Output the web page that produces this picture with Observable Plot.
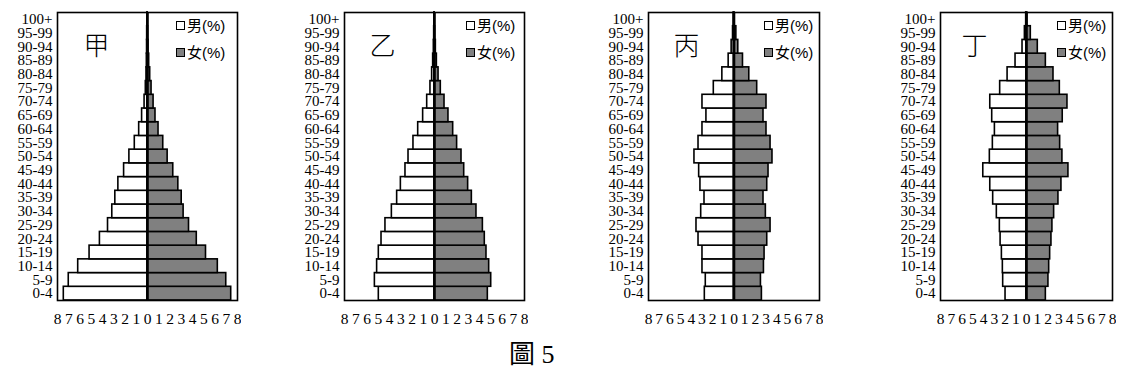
<!DOCTYPE html>
<html>
<head>
<meta charset="utf-8">
<script src="https://cdn.jsdelivr.net/npm/d3@7"></script>
<script src="https://cdn.jsdelivr.net/npm/@observablehq/plot@0.6"></script>
<style>
  html, body { margin: 0; padding: 0; background: #fff; }
  #wrap { position: relative; width: 1126px; height: 377px; overflow: hidden; }
  .panel { position: absolute; top: 0; }
  .legend { position: absolute; font-family: "Liberation Sans", "Noto Sans CJK TC", sans-serif; font-size: 15px; color: #000; line-height: 1; }
  .legend .item { position: absolute; white-space: nowrap; display: flex; align-items: center; }
  .legend .sw { width: 7px; height: 7px; border: 1.5px solid #000; margin-right: 2px; }
  #caption { position: absolute; left: 509px; top: 339px; font-family: "Liberation Serif", "Times New Roman", "Noto Sans CJK TC", serif; font-size: 26px; color: #000; line-height: 1.2; }
</style>
</head>
<body>
<div id="wrap"></div>
<script>
// Age groups (bottom to top)
const ages = ["0-4","5-9","10-14","15-19","20-24","25-29","30-34","35-39","40-44","45-49","50-54","55-59","60-64","65-69","70-74","75-79","80-84","85-89","90-94","95-99","100+"];

// Panel titles
const titles = ["甲", "乙", "丙", "丁"];
const legendLabels = ["男(%)", "女(%)"];
const xTicks = [-8,-7,-6,-5,-4,-3,-2,-1,0,1,2,3,4,5,6,7,8];

// 甲
const jiaMale   = [7.44,7.0,6.16,5.15,4.23,3.51,3.13,2.86,2.59,2.08,1.61,1.13,0.74,0.48,0.26,0.15,0.09,0.06,0.04,0.03,0.01];
const jiaFemale = [7.44,7.0,6.25,5.2,4.38,3.69,3.21,3.04,2.74,2.29,1.79,1.40,0.98,0.71,0.54,0.36,0.24,0.15,0.09,0.05,0.02];
// 乙
const yiMale    = [4.95,5.30,5.10,4.95,4.71,4.36,3.79,3.32,2.99,2.58,2.31,1.87,1.45,1.01,0.65,0.36,0.21,0.12,0.06,0.03,0.01];
const yiFemale  = [4.74,5.04,4.86,4.62,4.47,4.30,3.73,3.32,2.99,2.64,2.40,2.01,1.66,1.24,0.89,0.56,0.36,0.21,0.12,0.05,0.02];
// 丙
const bingMale   = [2.73,2.64,2.95,2.95,3.32,3.51,3.07,2.76,3.14,3.26,3.70,3.32,2.95,2.58,2.95,1.89,1.09,0.50,0.22,0.09,0.03];
const bingFemale = [2.61,2.52,2.80,2.86,3.11,3.42,2.98,2.76,3.11,3.23,3.60,3.42,3.04,2.76,3.04,2.17,1.43,0.84,0.40,0.22,0.06];
// 丁
const dingMale   = [1.95,2.17,2.20,2.29,2.41,2.48,2.76,3.10,3.37,4.02,3.41,3.13,2.94,3.19,3.37,2.45,1.76,1.02,0.37,0.15,0.03];
const dingFemale = [1.80,2.04,2.11,2.20,2.32,2.41,2.57,2.97,3.25,3.90,3.34,3.13,2.94,3.37,3.81,3.10,2.51,1.80,1.05,0.40,0.08];

const series = [
  [jiaMale, jiaFemale],
  [yiMale, yiFemale],
  [bingMale, bingFemale],
  [dingMale, dingFemale]
];

// Layout (pixels)
const layout = [
  {frameLeft: 57,  frameWidth: 180, legendOffset: 61, titleDx: 26},
  {frameLeft: 344, frameWidth: 180, legendOffset: 58, titleDx: 25},
  {frameLeft: 648, frameWidth: 171, legendOffset: 55, titleDx: 25},
  {frameLeft: 940, frameWidth: 172, legendOffset: 55, titleDx: 21}
];
const marginLeft = 55, marginRight = 4, marginTop = 12, marginBottom = 40, height = 340;
const serif = "'Liberation Serif', 'Times New Roman', 'DejaVu Serif', serif";

const wrap = document.getElementById("wrap");

series.forEach(([male, female], i) => {
  const L = layout[i];
  const rows = [];
  ages.forEach((a, k) => {
    rows.push({age: a, sex: "male", v: -male[k]});
    rows.push({age: a, sex: "female", v: female[k]});
  });
  const chart = Plot.plot({
    width: marginLeft + L.frameWidth + marginRight,
    height,
    marginLeft, marginRight, marginTop, marginBottom,
    style: {background: "transparent", color: "#000"},
    x: {domain: [-8, 8], label: null},
    y: {domain: ages.slice().reverse(), padding: 0, round: false, label: null},
    marks: [
      Plot.barX(rows, {y: "age", x1: 0, x2: "v", fill: d => d.sex === "male" ? "#fff" : "#808080", stroke: "#000", strokeWidth: 1.6}),
      Plot.ruleX([0], {stroke: "#000", strokeWidth: 2.6}),
      Plot.frame({stroke: "#000", strokeWidth: 1.6}),
      Plot.axisX({ticks: xTicks, tickFormat: d => Math.abs(d), tickSize: 0, tickPadding: 12, fontSize: 15.5, fontFamily: serif, fill: "#000", label: null}),
      Plot.axisY({tickSize: 0, tickPadding: 5, fontSize: 15, fontFamily: serif, fill: "#000", label: null}),
      Plot.text([titles[i]], {text: d => d, frameAnchor: "top-left", lineAnchor: "top", dx: L.titleDx, dy: 24, fontSize: 26, fontWeight: 300, fontFamily: "'Noto Sans CJK TC', sans-serif", fill: "#000"})
    ]
  });
  const div = document.createElement("div");
  div.className = "panel";
  div.style.left = (L.frameLeft - marginLeft) + "px";
  div.appendChild(chart);
  wrap.appendChild(div);

  // legend
  const leg = document.createElement("div");
  leg.className = "legend";
  leg.style.left = (L.frameLeft + L.frameWidth - L.legendOffset) + "px";
  leg.style.top = "0px";
  legendLabels.forEach((lab, j) => {
    const it = document.createElement("div");
    it.className = "item";
    it.style.top = (18 + j * 27) + "px";
    const sw = document.createElement("span");
    sw.className = "sw";
    sw.style.background = j === 0 ? "#fff" : "#808080";
    const tx = document.createElement("span");
    tx.textContent = lab;
    it.appendChild(sw);
    it.appendChild(tx);
    leg.appendChild(it);
  });
  wrap.appendChild(leg);
});

const cap = document.createElement("div");
cap.id = "caption";
cap.textContent = "圖 5";
wrap.appendChild(cap);
</script>
</body>
</html>
